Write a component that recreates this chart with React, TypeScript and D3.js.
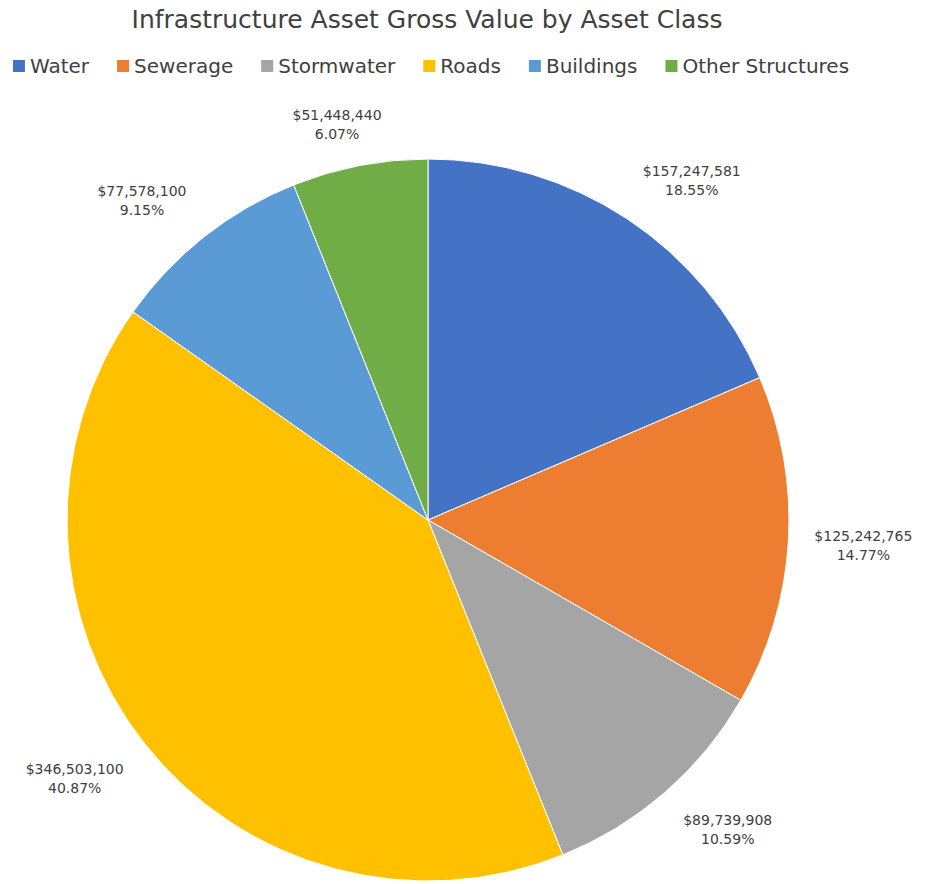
import React, { useEffect, useRef } from "react";
import * as d3 from "d3";

const categories = ["Water", "Sewerage", "Stormwater", "Roads", "Buildings", "Other Structures"];
const values = [157247581, 125242765, 89739908, 346503100, 77578100, 51448440];
const colors = ["#4472C4", "#ED7D31", "#A5A5A5", "#FFC000", "#5B9BD5", "#70AD47"];
const title = "Infrastructure Asset Gross Value by Asset Class";

const W = 932;
const H = 884;
const FONT = "'Century Gothic', 'DejaVu Sans', sans-serif";

export default function App() {
  const ref = useRef<SVGSVGElement | null>(null);

  useEffect(() => {
    const svg = d3.select(ref.current);
    svg.selectAll("*").remove();

    svg.append("rect").attr("width", W).attr("height", H).attr("fill", "#fff");

    svg
      .append("text")
      .attr("x", 427)
      .attr("y", 28)
      .attr("text-anchor", "middle")
      .attr("font-family", FONT)
      .attr("font-size", 25)
      .attr("fill", "#404040")
      .text(title);

    // Legend
    const lg = svg.append("g");
    const items = categories.map((c, i) => {
      const g = lg.append("g");
      g.append("rect").attr("x", 0).attr("y", -6).attr("width", 12).attr("height", 12).attr("fill", colors[i]);
      const t = g
        .append("text")
        .attr("x", 17)
        .attr("y", 7)
        .attr("font-family", FONT)
        .attr("font-size", 20)
        .attr("fill", "#404040")
        .text(c);
      const w = (t.node() as SVGTextElement).getComputedTextLength();
      return { g, w: 17 + w };
    });
    const gap = 28;
    const total = d3.sum(items, (d) => d.w) + gap * (items.length - 1);
    let x = 431 - total / 2;
    items.forEach((it) => {
      it.g.attr("transform", `translate(${x},66)`);
      x += it.w + gap;
    });

    // Pie
    const cx = 428;
    const cy = 520;
    const r = 361;
    const sum = d3.sum(values);
    const pie = d3.pie<number>().sort(null).value((d) => d);
    const arcs = pie(values);
    const arc = d3.arc<d3.PieArcDatum<number>>().innerRadius(0).outerRadius(r);
    const g = svg.append("g").attr("transform", `translate(${cx},${cy})`);
    g.selectAll("path")
      .data(arcs)
      .join("path")
      .attr("d", arc as any)
      .attr("fill", (_d, i) => colors[i])
      .attr("stroke", "#fff")
      .attr("stroke-width", 1);

    // Labels: box anchored outside the arc along the mid-angle ray
    const fmt = d3.format(",");
    const anchorR = r + 22;
    const boxH = 40;
    const clamp = (v: number) => Math.max(-1, Math.min(1, v));
    arcs.forEach((a, i) => {
      const mid = (a.startAngle + a.endAngle) / 2;
      const sx = Math.sin(mid);
      const sy = -Math.cos(mid);
      const t = g
        .append("text")
        .attr("text-anchor", "middle")
        .attr("font-family", FONT)
        .attr("font-size", 14)
        .attr("fill", "#404040");
      const s1 = t.append("tspan").text("$" + fmt(values[i]));
      const s2 = t.append("tspan").text(((values[i] / sum) * 100).toFixed(2) + "%");
      const boxW = (s1.node() as SVGTSpanElement).getComputedTextLength() + 8;
      const lx = anchorR * sx + (boxW / 2) * clamp(2 * sx);
      const ly = anchorR * sy + (boxH / 2) * clamp(2 * sy);
      s1.attr("x", lx).attr("y", ly - 4);
      s2.attr("x", lx).attr("y", ly + 15);
    });
  }, []);

  return (
    <svg
      ref={ref}
      width={W}
      height={H}
      style={{ display: "block", position: "absolute", left: 0, top: 0 }}
    />
  );
}
